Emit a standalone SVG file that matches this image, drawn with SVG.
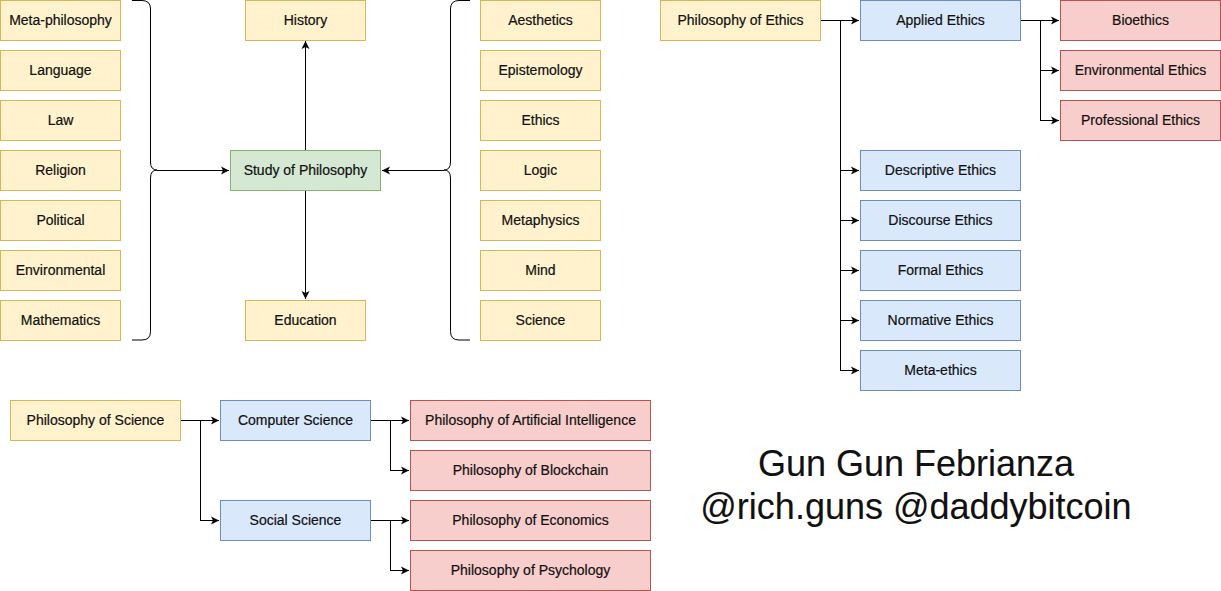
<svg xmlns="http://www.w3.org/2000/svg" width="1221" height="591" viewBox="0 0 1221 591">
<style>
  .y{fill:#fff2cc;stroke:#d6b656;stroke-width:1}
  .g{fill:#d5e8d4;stroke:#82b366;stroke-width:1}
  .b{fill:#dae8fc;stroke:#6c8ebf;stroke-width:1}
  .r{fill:#f8cecc;stroke:#b85450;stroke-width:1}
  text{font-family:"Liberation Sans",Arial,sans-serif;font-size:14px;fill:#111;stroke:#111;stroke-width:0.2;text-anchor:middle;dominant-baseline:central}
  .big{font-size:36px;dominant-baseline:alphabetic;stroke-width:0.1}
  .c{fill:none;stroke:#000;stroke-width:1}
</style>
<defs>
  <marker id="ah" markerWidth="9" markerHeight="9" refX="8" refY="4.5" orient="auto" markerUnits="userSpaceOnUse">
    <path d="M0,0.5 L8,4.5 L0,8.5 L2,4.5 z" fill="#000"/>
  </marker>
</defs>
<rect width="1221" height="591" fill="#fff"/>

<g id="connectors">
  <path class="c" d="M132,0.5 H142 Q150.5,0.5 150.5,9 V162 Q150.5,170 157,170 Q150.5,170 150.5,178 V331.5 Q150.5,340 142,340 H132"/>
  <path class="c" d="M470,0.5 H459 Q450.5,0.5 450.5,9 V162 Q450.5,170 444,170 Q450.5,170 450.5,178 V331.5 Q450.5,340 459,340 H470"/>
  <path class="c" d="M157,170.5 H229" marker-end="url(#ah)"/>
  <path class="c" d="M444,170.5 H382" marker-end="url(#ah)"/>
  <path class="c" d="M305.5,150 V41" marker-end="url(#ah)"/>
  <path class="c" d="M305.5,190 V299" marker-end="url(#ah)"/>

  <path class="c" d="M820,20.5 H859" marker-end="url(#ah)"/>
  <path class="c" d="M840.5,20.5 V370.5"/>
  <path class="c" d="M840.5,170.5 H859" marker-end="url(#ah)"/>
  <path class="c" d="M840.5,220.5 H859" marker-end="url(#ah)"/>
  <path class="c" d="M840.5,270.5 H859" marker-end="url(#ah)"/>
  <path class="c" d="M840.5,320.5 H859" marker-end="url(#ah)"/>
  <path class="c" d="M840,370.5 H859" marker-end="url(#ah)"/>

  <path class="c" d="M1020,20.5 H1059" marker-end="url(#ah)"/>
  <path class="c" d="M1040.5,20.5 V120.5"/>
  <path class="c" d="M1040.5,70.5 H1059" marker-end="url(#ah)"/>
  <path class="c" d="M1040,120.5 H1059" marker-end="url(#ah)"/>

  <path class="c" d="M180,420.5 H219" marker-end="url(#ah)"/>
  <path class="c" d="M200.5,420.5 V520.5"/>
  <path class="c" d="M200,520.5 H219" marker-end="url(#ah)"/>

  <path class="c" d="M370,420.5 H409" marker-end="url(#ah)"/>
  <path class="c" d="M390.5,420.5 V470.5"/>
  <path class="c" d="M390,470.5 H409" marker-end="url(#ah)"/>

  <path class="c" d="M370,520.5 H409" marker-end="url(#ah)"/>
  <path class="c" d="M390.5,520.5 V570.5"/>
  <path class="c" d="M390,570.5 H409" marker-end="url(#ah)"/>
</g>

<g id="n-meta-philosophy"><rect class="y" x="0.5" y="0.5" width="120" height="40"/><text x="60.5" y="19.8">Meta-philosophy</text></g>
<g id="n-language"><rect class="y" x="0.5" y="50.5" width="120" height="40"/><text x="60.5" y="69.8">Language</text></g>
<g id="n-law"><rect class="y" x="0.5" y="100.5" width="120" height="40"/><text x="60.5" y="119.8">Law</text></g>
<g id="n-religion"><rect class="y" x="0.5" y="150.5" width="120" height="40"/><text x="60.5" y="169.8">Religion</text></g>
<g id="n-political"><rect class="y" x="0.5" y="200.5" width="120" height="40"/><text x="60.5" y="219.8">Political</text></g>
<g id="n-environmental"><rect class="y" x="0.5" y="250.5" width="120" height="40"/><text x="60.5" y="269.8">Environmental</text></g>
<g id="n-mathematics"><rect class="y" x="0.5" y="300.5" width="120" height="40"/><text x="60.5" y="319.8">Mathematics</text></g>

<g id="n-history"><rect class="y" x="245.5" y="0.5" width="120" height="40"/><text x="305.5" y="19.8">History</text></g>
<g id="n-study"><rect class="g" x="230.5" y="150.5" width="150" height="40"/><text x="305.5" y="169.8">Study of Philosophy</text></g>
<g id="n-education"><rect class="y" x="245.5" y="300.5" width="120" height="40"/><text x="305.5" y="319.8">Education</text></g>

<g id="n-aesthetics"><rect class="y" x="480.5" y="0.5" width="120" height="40"/><text x="540.5" y="19.8">Aesthetics</text></g>
<g id="n-epistemology"><rect class="y" x="480.5" y="50.5" width="120" height="40"/><text x="540.5" y="69.8">Epistemology</text></g>
<g id="n-ethics"><rect class="y" x="480.5" y="100.5" width="120" height="40"/><text x="540.5" y="119.8">Ethics</text></g>
<g id="n-logic"><rect class="y" x="480.5" y="150.5" width="120" height="40"/><text x="540.5" y="169.8">Logic</text></g>
<g id="n-metaphysics"><rect class="y" x="480.5" y="200.5" width="120" height="40"/><text x="540.5" y="219.8">Metaphysics</text></g>
<g id="n-mind"><rect class="y" x="480.5" y="250.5" width="120" height="40"/><text x="540.5" y="269.8">Mind</text></g>
<g id="n-science"><rect class="y" x="480.5" y="300.5" width="120" height="40"/><text x="540.5" y="319.8">Science</text></g>

<g id="n-phil-ethics"><rect class="y" x="660.5" y="0.5" width="160" height="40"/><text x="740.5" y="19.8">Philosophy of Ethics</text></g>
<g id="n-applied"><rect class="b" x="860.5" y="0.5" width="160" height="40"/><text x="940.5" y="19.8">Applied Ethics</text></g>
<g id="n-descriptive"><rect class="b" x="860.5" y="150.5" width="160" height="40"/><text x="940.5" y="169.8">Descriptive Ethics</text></g>
<g id="n-discourse"><rect class="b" x="860.5" y="200.5" width="160" height="40"/><text x="940.5" y="219.8">Discourse Ethics</text></g>
<g id="n-formal"><rect class="b" x="860.5" y="250.5" width="160" height="40"/><text x="940.5" y="269.8">Formal Ethics</text></g>
<g id="n-normative"><rect class="b" x="860.5" y="300.5" width="160" height="40"/><text x="940.5" y="319.8">Normative Ethics</text></g>
<g id="n-meta-ethics"><rect class="b" x="860.5" y="350.5" width="160" height="40"/><text x="940.5" y="369.8">Meta-ethics</text></g>
<g id="n-bioethics"><rect class="r" x="1060.5" y="0.5" width="160" height="40"/><text x="1140.5" y="19.8">Bioethics</text></g>
<g id="n-env-ethics"><rect class="r" x="1060.5" y="50.5" width="160" height="40"/><text x="1140.5" y="69.8">Environmental Ethics</text></g>
<g id="n-prof-ethics"><rect class="r" x="1060.5" y="100.5" width="160" height="40"/><text x="1140.5" y="119.8">Professional Ethics</text></g>

<g id="n-phil-science"><rect class="y" x="10.5" y="400.5" width="170" height="40"/><text x="95.5" y="419.8">Philosophy of Science</text></g>
<g id="n-computer"><rect class="b" x="220.5" y="400.5" width="150" height="40"/><text x="295.5" y="419.8">Computer Science</text></g>
<g id="n-social"><rect class="b" x="220.5" y="500.5" width="150" height="40"/><text x="295.5" y="519.8">Social Science</text></g>
<g id="n-ai"><rect class="r" x="410.5" y="400.5" width="240" height="40"/><text x="530.5" y="419.8">Philosophy of Artificial Intelligence</text></g>
<g id="n-blockchain"><rect class="r" x="410.5" y="450.5" width="240" height="40"/><text x="530.5" y="469.8">Philosophy of Blockchain</text></g>
<g id="n-economics"><rect class="r" x="410.5" y="500.5" width="240" height="40"/><text x="530.5" y="519.8">Philosophy of Economics</text></g>
<g id="n-psychology"><rect class="r" x="410.5" y="550.5" width="240" height="40"/><text x="530.5" y="569.8">Philosophy of Psychology</text></g>

<g id="signature">
  <text class="big" x="916" y="476">Gun Gun Febrianza</text>
  <text class="big" x="916" y="519">@rich.guns @daddybitcoin</text>
</g>
</svg>
